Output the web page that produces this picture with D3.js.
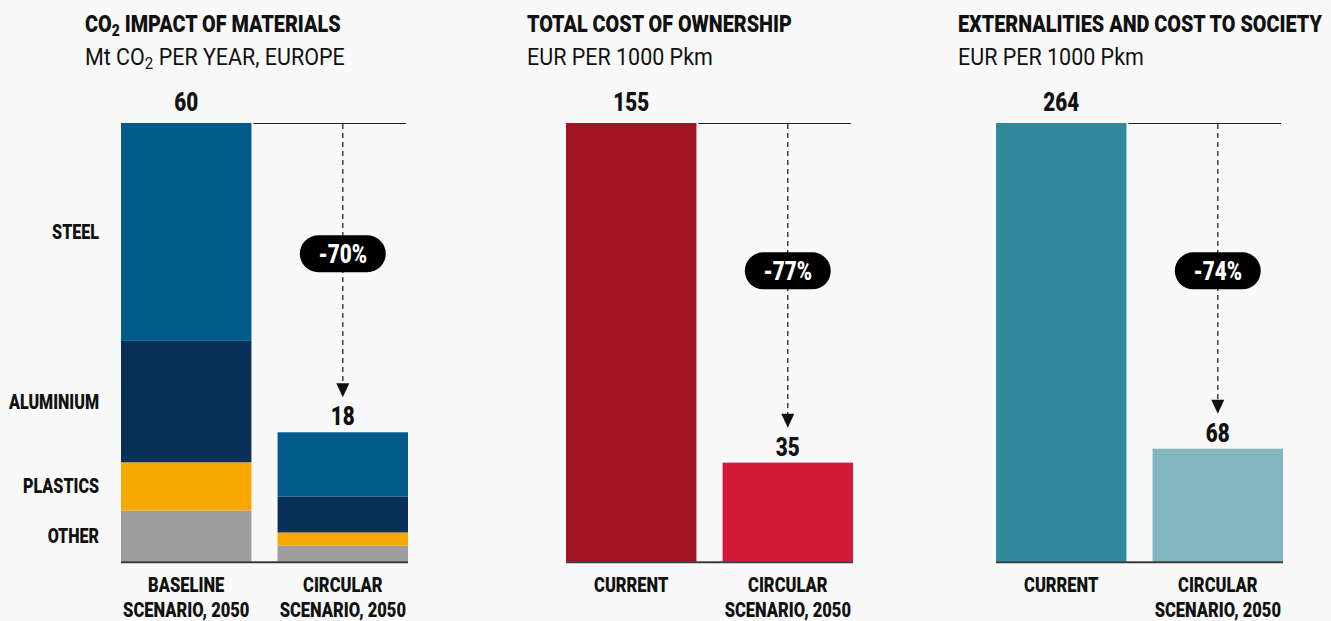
<!DOCTYPE html>
<html>
<head>
<meta charset="utf-8">
<script src="https://cdn.jsdelivr.net/npm/d3@7"></script>
<style>
  html, body { margin: 0; padding: 0; background: #f9f9f9; }
  svg { display: block; }
  text { font-family: "Roboto", "Liberation Sans", sans-serif; fill: #111; }
</style>
</head>
<body>
<svg id="chart" width="1331" height="621"></svg>
<script>
// ---------- DATA ----------
const materials = ["STEEL", "ALUMINIUM", "PLASTICS", "OTHER"];
const materialColors = ["#005a8a", "#0a3059", "#f6a800", "#9d9e9d"];
const co2Scenarios = ["BASELINE|SCENARIO, 2050", "CIRCULAR|SCENARIO, 2050"];
const co2Baseline = [29.8, 16.6, 6.6, 7.0];
const co2Circular = [8.8, 4.9, 1.8, 2.2];
const co2Totals = ["60", "18"];

const costScenarios = ["CURRENT", "CIRCULAR|SCENARIO, 2050"];
const ownershipValues = [155, 35];
const ownershipColors = ["#a31422", "#d11a3a"];
const externalityValues = [264, 68];
const externalityColors = ["#318a9b", "#82b6c0"];

const reductions = ["-70%", "-77%", "-74%"];
const titles = ["CO|2| IMPACT OF MATERIALS", "TOTAL COST OF OWNERSHIP", "EXTERNALITIES AND COST TO SOCIETY"];
const subtitles = ["Mt CO|2| PER YEAR, EUROPE", "EUR PER 1000 Pkm", "EUR PER 1000 Pkm"];

// ---------- HELPERS ----------
const svg = d3.select("#chart");
const baseY = 561.7, topY = 123;
const panelW = 287;
const BOLD = 900;

function natural(str, size, weight) {
  const t = svg.append("text").attr("font-size", size).attr("font-weight", weight).text(str);
  const w = t.node().getComputedTextLength();
  t.remove();
  return w;
}
const kBold = 265 / natural("TOTAL COST OF OWNERSHIP", 24, BOLD);
const kReg = 186 / natural("EUR PER 1000 Pkm", 24, "normal");

function ctext(parent, x, y, size, weight, anchor) {
  const k = weight === BOLD ? kBold : kReg;
  const g = parent.append("g").attr("transform", `translate(${x},${y}) scale(${k},1)`);
  return g.append("text").attr("font-size", size).attr("font-weight", weight)
    .attr("text-anchor", anchor || "start");
}

function richText(sel, str, size) {
  const parts = str.split("|");
  parts.forEach((p, i) => {
    if (i % 2 === 1) {
      sel.append("tspan").attr("font-size", size * 0.7).attr("dy", 4).text(p);
    } else {
      const t = sel.append("tspan").text(p);
      if (i > 0) t.attr("dy", -4);
    }
  });
}

const panels = [
  { x0: 121, tx: 85, cats: co2Scenarios, stacks: [co2Baseline, co2Circular], labels: co2Totals, badgeFrac: 0.702 },
  { x0: 566, tx: 527, cats: costScenarios, values: ownershipValues, colors: ownershipColors, labels: ownershipValues.map(String), badgeFrac: 0.663 },
  { x0: 996, tx: 958, cats: costScenarios, values: externalityValues, colors: externalityColors, labels: externalityValues.map(String), badgeFrac: 0.663 }
];

panels.forEach((p, pi) => {
  const g = svg.append("g");
  richText(ctext(g, p.tx, 31.5, 24, BOLD), titles[pi], 24);
  richText(ctext(g, p.tx, 65, 24, "normal"), subtitles[pi], 24);

  const totals = p.stacks ? p.stacks.map(a => d3.sum(a)) : p.values;
  const x = d3.scaleBand().domain(p.cats).range([p.x0, p.x0 + panelW]).paddingInner(0.167).paddingOuter(0);
  const y = d3.scaleLinear().domain([0, totals[0]]).range([baseY, topY]);

  if (p.stacks) {
    p.stacks.forEach((vals, bi) => {
      let acc = 0;
      const segs = [];
      for (let k = vals.length - 1; k >= 0; k--) {
        segs.push({ k, y0: acc, y1: acc + vals[k] });
        acc += vals[k];
      }
      g.selectAll(null).data(segs).enter().append("rect")
        .attr("x", x(p.cats[bi])).attr("width", x.bandwidth())
        .attr("y", d => y(d.y1)).attr("height", d => y(d.y0) - y(d.y1))
        .attr("fill", d => materialColors[d.k]);
      if (bi === 0) {
        segs.forEach(d => {
          ctext(g, 99, y((d.y0 + d.y1) / 2) + 7, 19.5, BOLD, "end").text(materials[d.k]);
        });
      }
    });
  } else {
    g.selectAll(null).data(p.values).enter().append("rect")
      .attr("x", (d, i) => x(p.cats[i])).attr("width", x.bandwidth())
      .attr("y", d => y(d)).attr("height", d => baseY - y(d))
      .attr("fill", (d, i) => p.colors[i]);
  }

  g.append("line").attr("x1", p.x0).attr("x2", p.x0 + panelW)
    .attr("y1", baseY + 0.5).attr("y2", baseY + 0.5)
    .attr("stroke", "#3a3a3a").attr("stroke-width", 2);

  const b2 = p.cats[1];
  const cx2 = x(b2) + x.bandwidth() / 2;
  g.append("line").attr("x1", x(p.cats[0]) + x.bandwidth() + 2).attr("x2", p.x0 + panelW - 2)
    .attr("y1", y(totals[0]) + 0.5).attr("y2", y(totals[0]) + 0.5)
    .attr("stroke", "#222").attr("stroke-width", 1.2);

  p.labels.forEach((lab, i) => {
    ctext(g, x(p.cats[i]) + x.bandwidth() / 2, y(totals[i]) - (i === 0 ? 12 : 7), 25, BOLD, "middle").text(lab);
  });

  const tipY = y(totals[1]) - 35;
  g.append("line").attr("x1", cx2).attr("x2", cx2)
    .attr("y1", y(totals[0]) + 1).attr("y2", tipY - 12)
    .attr("stroke", "#222").attr("stroke-width", 1.3).attr("stroke-dasharray", "5,4");
  g.append("path")
    .attr("d", `M${cx2 - 6.5},${tipY - 14} L${cx2 + 6.5},${tipY - 14} L${cx2},${tipY} Z`)
    .attr("fill", "#111");

  const by = y(totals[0] * p.badgeFrac);
  g.append("rect").attr("x", cx2 - 43).attr("y", by - 18.5).attr("width", 86).attr("height", 37)
    .attr("rx", 18.5).attr("fill", "#000");
  ctext(g, cx2, by + 9, 25, BOLD, "middle").style("fill", "#fff").text(reductions[pi]);

  p.cats.forEach(c => {
    c.split("|").forEach((l, li) => {
      ctext(g, x(c) + x.bandwidth() / 2, 591.5 + li * 25, 20, BOLD, "middle").text(l);
    });
  });
});
</script>
</body>
</html>
